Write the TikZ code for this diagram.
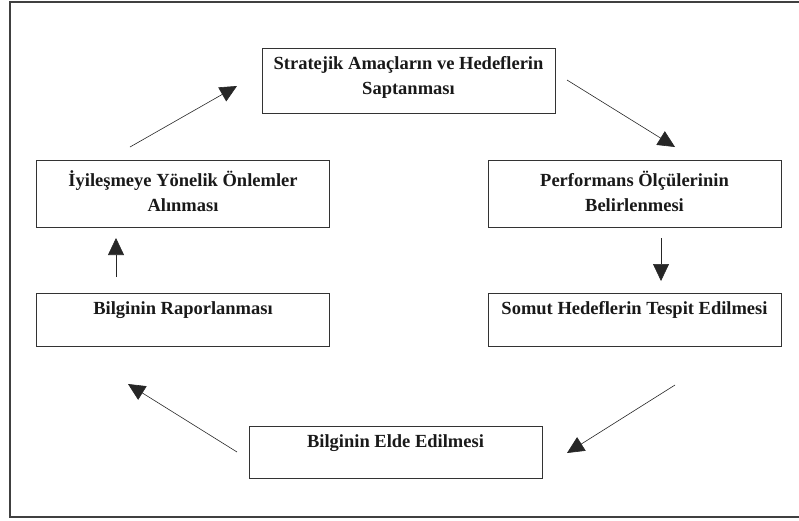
\documentclass[tikz,border=0pt]{standalone}
\usepackage{fontspec}
\setmainfont{Liberation Serif}
\usetikzlibrary{arrows.meta}
\begin{document}
\begin{tikzpicture}[x=1pt,y=-1pt,
  box/.style={draw=black!80, line width=0.9pt, inner sep=0pt, minimum width=293pt},
  lbl/.style={font=\bfseries\fontsize{18.5pt}{25pt}\selectfont, text=black!90, align=center, inner sep=0pt},
  arr/.style={draw=black!85, line width=0.6pt, -{Triangle[length=17pt,width=16pt]}}]
\useasboundingbox (0,0) rectangle (799,520);
\draw[black!75, line width=1.2pt] (10,2) rectangle (810,517);
% boxes
\node[box, minimum height=65pt] (b1) at (408.5,80.5) {};
\node[box, minimum height=67pt] (b2) at (183,193.5) {};
\node[box, minimum height=67pt] (b3) at (634.5,193.5) {};
\node[box, minimum height=53pt] (b4) at (183,319.5) {};
\node[box, minimum height=53pt] (b5) at (634.5,319.5) {};
\node[box, minimum height=52pt] (b6) at (395.5,452) {};
% labels
\node[lbl] (t1) at (408.5,77.5) {Stratejik Amaçların ve Hedeflerin\\Saptanması};
\node[lbl] (t2) at (183,191.5) {İyileşmeye Yönelik Önlemler\\Alınması};
\node[lbl] (t3) at (634.5,191.5) {Performans Ölçülerinin\\Belirlenmesi};
\node[lbl] (t4) at (183,310) {Bilginin Raporlanması};
\node[lbl] (t5) at (634.5,310) {Somut Hedeflerin Tespit Edilmesi};
\node[lbl] (t6) at (395.5,443) {Bilginin Elde Edilmesi};
% arrow ends
\coordinate (a1s) at (130,147); \coordinate (a1e) at (237,86);
\coordinate (a2s) at (567,80);  \coordinate (a2e) at (675,147);
\coordinate (a3s) at (661,238); \coordinate (a3e) at (661,281);
\coordinate (a4s) at (116,277); \coordinate (a4e) at (116,238);
\coordinate (a5s) at (675,385); \coordinate (a5e) at (567,453);
\coordinate (a6s) at (237,452); \coordinate (a6e) at (128,384);
\draw[arr] (a1s) -- (a1e);
\draw[arr] (a2s) -- (a2e);
\draw[arr] (a3s) -- (a3e);
\draw[arr] (a4s) -- (a4e);
\draw[arr] (a5s) -- (a5e);
\draw[arr] (a6s) -- (a6e);
\end{tikzpicture}
\end{document}
